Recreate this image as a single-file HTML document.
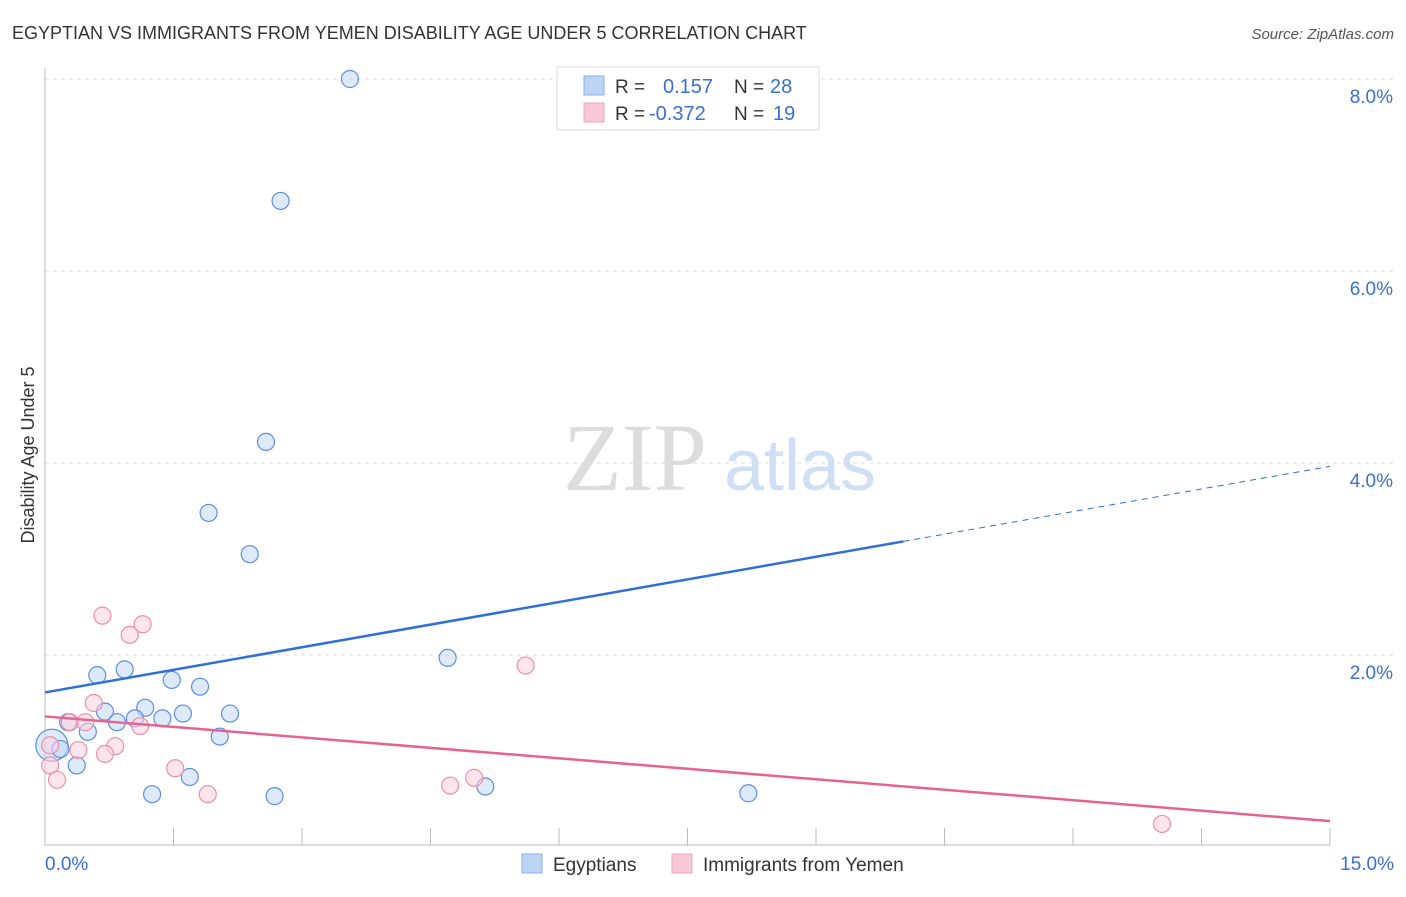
<!DOCTYPE html>
<html><head><meta charset="utf-8"><style>
body{margin:0;background:#fff;font-family:"Liberation Sans",sans-serif}
</style></head><body>
<svg width="1406" height="892" id="c" xmlns="http://www.w3.org/2000/svg" font-family="Liberation Sans, sans-serif">
<text x="12" y="39" font-size="18" fill="#333">EGYPTIAN VS IMMIGRANTS FROM YEMEN DISABILITY AGE UNDER 5 CORRELATION CHART</text>
<text x="1394" y="39" font-size="15" fill="#555" font-style="italic" text-anchor="end">Source: ZipAtlas.com</text>
<text x="34" y="455" font-size="18" fill="#333" transform="rotate(-90 34 455)" text-anchor="middle">Disability Age Under 5</text>
<g><text x="635" y="490" font-size="96" fill="#ddd" font-family="Liberation Serif, serif" text-anchor="middle">ZIP</text><text x="800" y="490" font-size="72" fill="#cfe0f5" text-anchor="middle">atlas</text></g>
<g id="grid"></g><g id="marks"></g>
<g>
<rect x="557" y="67" width="262" height="63" fill="#fff" stroke="#ddd"/>
<rect x="584" y="76" width="20" height="19" fill="#bcd5f5" stroke="#8ab0e8"/>
<rect x="584" y="103" width="20" height="19" fill="#f9c7d5" stroke="#eea5bb"/>
<text x="615" y="93" font-size="19" fill="#333">R =</text><text x="663" y="93" font-size="20" fill="#3a6fd0">0.157</text>
<text x="734" y="93" font-size="19" fill="#333">N =</text><text x="770" y="93" font-size="20" fill="#3a6fd0">28</text>
<text x="615" y="120" font-size="19" fill="#333">R =</text><text x="649" y="120" font-size="20" fill="#3a6fd0">-0.372</text>
<text x="734" y="120" font-size="19" fill="#333">N =</text><text x="773" y="120" font-size="20" fill="#3a6fd0">19</text>
</g>
<g>
<rect x="522" y="854" width="20" height="19" fill="#bcd5f5" stroke="#8ab0e8"/>
<text x="553" y="871" font-size="19" fill="#333">Egyptians</text>
<rect x="672" y="854" width="20" height="19" fill="#f9c7d5" stroke="#eea5bb"/>
<text x="703" y="871" font-size="19" fill="#333">Immigrants from Yemen</text>
</g>
</svg>
<script>
const blueX=[3.56,2.75,2.58,1.91,2.39,4.70,0.61,0.93,1.48,1.81,1.17,0.70,1.61,2.16,1.37,1.05,0.84,0.27,0.50,2.04,0.08,0.18,0.37,1.69,1.25,2.68,5.14,8.21];
const blueY=[8.0,6.73,4.22,3.48,3.05,1.97,1.79,1.85,1.74,1.67,1.45,1.41,1.39,1.39,1.34,1.34,1.30,1.30,1.20,1.15,1.06,1.02,0.85,0.73,0.55,0.53,0.63,0.56];
const pinkX=[0.67,1.14,0.99,5.61,0.57,0.29,0.47,1.11,0.82,0.39,0.70,0.06,0.14,1.52,1.90,4.73,5.01,13.04,0.06];
const pinkY=[2.41,2.32,2.21,1.89,1.50,1.30,1.30,1.26,1.05,1.01,0.97,0.85,0.70,0.82,0.55,0.64,0.72,0.24,1.06];
const yTicks=[2,4,6,8];
const yTickLabels=["2.0%","4.0%","6.0%","8.0%"];
const xTickLabels=["0.0%","15.0%"];
const blueTrend=[1.61,0.157];const pinkTrend=[1.36,-0.0727];
const NS="http://www.w3.org/2000/svg";
const sx=v=>45+v/15*1285, sy=v=>847-v*96;
function el(t,a,p){const e=document.createElementNS(NS,t);for(const k in a)e.setAttribute(k,a[k]);p.appendChild(e);return e;}
const g=document.getElementById('grid'),m=document.getElementById('marks');
yTicks.forEach((t,i)=>{
 const l=el('line',{x1:45,x2:1394,y1:sy(t),y2:sy(t),stroke:'#ddd','stroke-dasharray':'4,4'},g);
 
 
 const tx=el('text',{x:1393,y:sy(t)+24,'font-size':19,fill:'#3a6fd0','text-anchor':'end'},g);tx.textContent=yTickLabels[i];
 
 
});
const ax=el('path',{d:'M45 68V845H1330',fill:'none',stroke:'#bbb'},g);


for(let i=0;i<=10;i++){const t=el('line',{x1:sx(i*1.5),x2:sx(i*1.5),y1:828,y2:845,stroke:'#bbb'},g);
 
 }
[[0,'start',45],[15,'end',1394]].forEach((d,i)=>{const t=el('text',{x:d[2],y:870,'font-size':19,fill:'#3a6fd0','text-anchor':d[1]},g);t.textContent=xTickLabels[i];
 
 });
function pts(X,Y,fill,stroke,name){X.forEach((x,i)=>{const r=(name==='egyptian-point'&&i===20)?16:8.5;
 const c=el('circle',{cx:sx(x),cy:sy(Y[i]),r:r,fill:fill,'fill-opacity':0.55,stroke:stroke,'stroke-width':1.2},m);
 
 });}
pts(blueX,blueY,'#c2d8f5','#5b8fe0','egyptian-point');
pts(pinkX,pinkY,'#fbd0dc','#ec8fab','yemen-point');
let b=el('line',{x1:sx(0),y1:sy(blueTrend[0]),x2:sx(10.02),y2:sy(blueTrend[0]+blueTrend[1]*10.02),stroke:'#2f6fd6','stroke-width':2.5},m);


b=el('line',{x1:sx(10.02),y1:sy(blueTrend[0]+blueTrend[1]*10.02),x2:sx(15),y2:sy(blueTrend[0]+blueTrend[1]*15),stroke:'#2f6fd6','stroke-width':1,'stroke-dasharray':'6,5'},m);


b=el('line',{x1:sx(0),y1:sy(pinkTrend[0]),x2:sx(15),y2:sy(pinkTrend[0]+pinkTrend[1]*15),stroke:'#e5648f','stroke-width':2.5},m);


</script>
</body></html>
